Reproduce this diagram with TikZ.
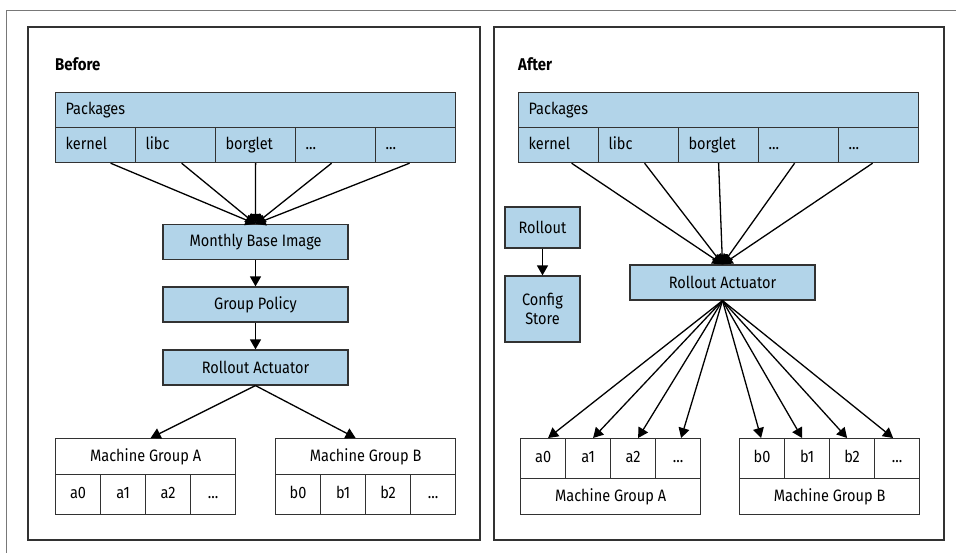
\documentclass[tikz,border=0pt]{standalone}
\usepackage{fontspec}
\setmainfont[FakeStretch=0.88]{Fira Sans}
\usetikzlibrary{arrows.meta}
\definecolor{boxblue}{RGB}{178,212,233}
\definecolor{edgegray}{RGB}{50,50,50}
\definecolor{framegray}{RGB}{120,120,120}

\tikzset{
    box/.style={draw=edgegray, line width=1.2pt, inner sep=0pt,
        font=\fontsize{16.5}{19}\selectfont},
    bluebox/.style={box, fill=boxblue, minimum width=185, minimum height=35},
    pkghead/.style={box, fill=boxblue, anchor=north west, text width=380,
        inner xsep=10pt, minimum height=35, align=left,
        text height=12pt, text depth=4pt},
    pkgcell/.style={box, fill=boxblue, anchor=north west, text width=60,
        inner xsep=10pt, minimum height=35, align=left,
        text height=12pt, text depth=4pt},
    grouphead/.style={box, fill=white, anchor=north west, minimum width=#1,
        minimum height=36},
    mcell/.style={box, fill=white, anchor=north west, minimum width=45,
        minimum height=#1, text height=11pt, text depth=3pt},
    panel/.style={draw=edgegray, line width=1.2pt},
    title/.style={anchor=west, inner sep=0pt,
        font=\fontsize{17}{20}\selectfont\bfseries},
    lnk/.style={draw=black, line width=1.3pt,
        -{Triangle[length=10pt,width=11pt]}}
}

\begin{document}
\begin{tikzpicture}[x=1pt,y=-1pt]
    \useasboundingbox (0,0) rectangle (956,553);
    \draw[framegray, line width=1pt] (6,553) -- (6,11) -- (956,11);

    % Before
    \draw[panel] (28,27) rectangle (480,540);
    \node[title] (before) at (55,64) {Before};

    \node[pkghead] (pkgL) at (55,92) {Packages};
    \node[pkgcell] (kernelL) at (55,127)  {kernel};
    \node[pkgcell] (libcL)   at (135,127) {libc};
    \node[pkgcell] (borgL)   at (215,127) {borglet};
    \node[pkgcell] (dotsL)   at (295,127) {...};
    \node[pkgcell] (moreL)   at (375,127) {...};

    \node[bluebox] (mbi)  at (255.5,242)   {Monthly Base Image};
    \node[bluebox] (gp)   at (255.5,304.5) {Group Policy};
    \node[bluebox] (raL)  at (255.5,367.5) {Rollout Actuator};

    \node[grouphead=180] (mgaL) at (55,438) {Machine Group A};
    \node[mcell=40] (a0L) at (55,474)  {a0};
    \node[mcell=40] (a1L) at (100,474) {a1};
    \node[mcell=40] (a2L) at (145,474) {a2};
    \node[mcell=40] (adL) at (190,474) {...};

    \node[grouphead=180] (mgbL) at (275,438) {Machine Group B};
    \node[mcell=40] (b0L) at (275,474) {b0};
    \node[mcell=40] (b1L) at (320,474) {b1};
    \node[mcell=40] (b2L) at (365,474) {b2};
    \node[mcell=40] (bdL) at (410,474) {...};

    \path
        ([xshift=15pt]kernelL.south) edge [lnk] (mbi.north)
        ([xshift=6pt]libcL.south)    edge [lnk] (mbi.north)
        (borgL.south)                edge [lnk] (mbi.north)
        ([xshift=-4pt]dotsL.south)   edge [lnk] (mbi.north)
        ([xshift=-6pt]moreL.south)   edge [lnk] (mbi.north)
        (mbi.south) edge [lnk] (gp.north)
        (gp.south)  edge [lnk] (raL.north)
        (raL.south) edge [lnk] ([xshift=5pt]mgaL.north)
                    edge [lnk] ([xshift=-10pt]mgbL.north)
        ;

    % After
    \draw[panel] (494,27) rectangle (944,540);
    \node[title] (after) at (518,64) {After};

    \node[pkghead] (pkgR) at (518,92) {Packages};
    \node[pkgcell] (kernelR) at (518,127) {kernel};
    \node[pkgcell] (libcR)   at (598,127) {libc};
    \node[pkgcell] (borgR)   at (678,127) {borglet};
    \node[pkgcell] (dotsR)   at (758,127) {...};
    \node[pkgcell] (moreR)   at (838,127) {...};

    \node[box, fill=boxblue, minimum width=75, minimum height=41]
        (rollout) at (542.5,227.5) {Rollout};
    \node[box, fill=boxblue, minimum width=75, minimum height=66, align=center]
        (config) at (542.5,309) {Config\\Store};
    \node[bluebox] (raR) at (722.5,282.5) {Rollout Actuator};

    \node[mcell=40] (a0R) at (520,438) {a0};
    \node[mcell=40] (a1R) at (565,438) {a1};
    \node[mcell=40] (a2R) at (610,438) {a2};
    \node[mcell=40] (adR) at (655,438) {...};
    \node[grouphead=180] (mgaR) at (520,478) {Machine Group A};

    \node[mcell=40] (b0R) at (739,438) {b0};
    \node[mcell=40] (b1R) at (784,438) {b1};
    \node[mcell=40] (b2R) at (829,438) {b2};
    \node[mcell=40] (bdR) at (874,438) {...};
    \node[grouphead=180] (mgbR) at (739,478) {Machine Group B};

    \path
        ([xshift=13pt]kernelR.south) edge [lnk] (raR.north)
        ([xshift=6pt]libcR.south)    edge [lnk] (raR.north)
        (borgR.south)                edge [lnk] (raR.north)
        ([xshift=-4pt]dotsR.south)   edge [lnk] (raR.north)
        ([xshift=-6pt]moreR.south)   edge [lnk] (raR.north)
        (rollout.south) edge [lnk] (config.north)
        (raR.south)
            edge [lnk] ([xshift=5pt]a0R.north)
            edge [lnk] ([xshift=5pt]a1R.north)
            edge [lnk] ([xshift=5pt]a2R.north)
            edge [lnk] ([xshift=3pt]adR.north)
            edge [lnk] ([xshift=-1pt]b0R.north)
            edge [lnk] ([xshift=-5pt]b1R.north)
            edge [lnk] ([xshift=-5pt]b2R.north)
            edge [lnk] ([xshift=-4pt]bdR.north)
        ;
\end{tikzpicture}
\end{document}
